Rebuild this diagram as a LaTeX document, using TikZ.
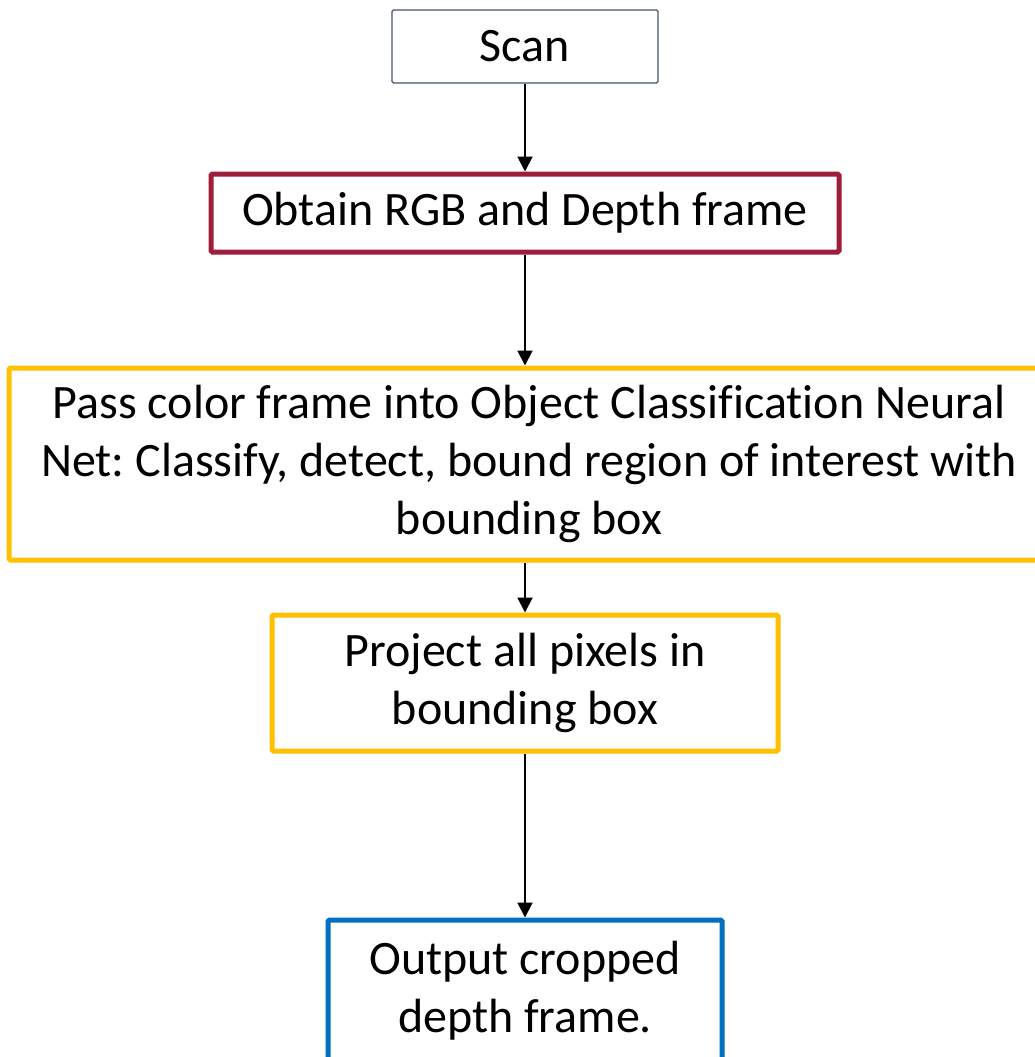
\documentclass[tikz,border=0pt]{standalone}
\usepackage{fontspec}
\setmainfont[Ligatures=NoCommon]{Carlito}
\usetikzlibrary{arrows.meta}
\definecolor{slate}{HTML}{44546A}
\definecolor{wine}{HTML}{9E1D3B}
\definecolor{gold}{HTML}{FFC000}
\definecolor{oblue}{HTML}{0070C0}
\frenchspacing
\begin{document}
\begin{tikzpicture}[x=1pt,y=-1pt,
  box/.style={draw, rectangle, rounded corners=1.5pt, align=center, inner sep=0pt,
    font=\fontsize{48}{58}\selectfont, fill=white},
  thinbox/.style={box, draw=slate, line width=1.3pt},
  thickbox/.style={box, line width=5pt},
  flow/.style={draw=black, line width=2pt, -{Triangle[width=15pt,length=15pt]}}]
\useasboundingbox[fill=white] (0,0) rectangle (1035,1057);
\node[thinbox, minimum width=266pt, minimum height=73pt] (scan) at (525,46.5) {Scan};
\node[thickbox, draw=wine, minimum width=628pt, minimum height=78pt] (obtain) at (525,213) {Obtain RGB and Depth frame};
\node[thickbox, draw=gold, minimum width=1040pt, minimum height=192pt] (pass) at (529,464)
  {Pass color frame into Object Classification Neural\\Net: Classify, detect, bound region of interest with\\bounding box};
\node[thickbox, draw=gold, minimum width=506pt, minimum height=136pt] (project) at (525,683)
  {Project all pixels in\\bounding box};
\node[thickbox, draw=oblue, minimum width=394pt, minimum height=142pt] (output) at (525,991)
  {Output cropped\\depth frame.};
\draw[flow] (scan.south) -- (obtain.north);
\draw[flow] (obtain.south) -- (obtain.south |- pass.north);
\draw[flow] (obtain.south |- pass.south) -- (project.north);
\draw[flow] (project.south) -- (output.north);
\end{tikzpicture}
\end{document}
